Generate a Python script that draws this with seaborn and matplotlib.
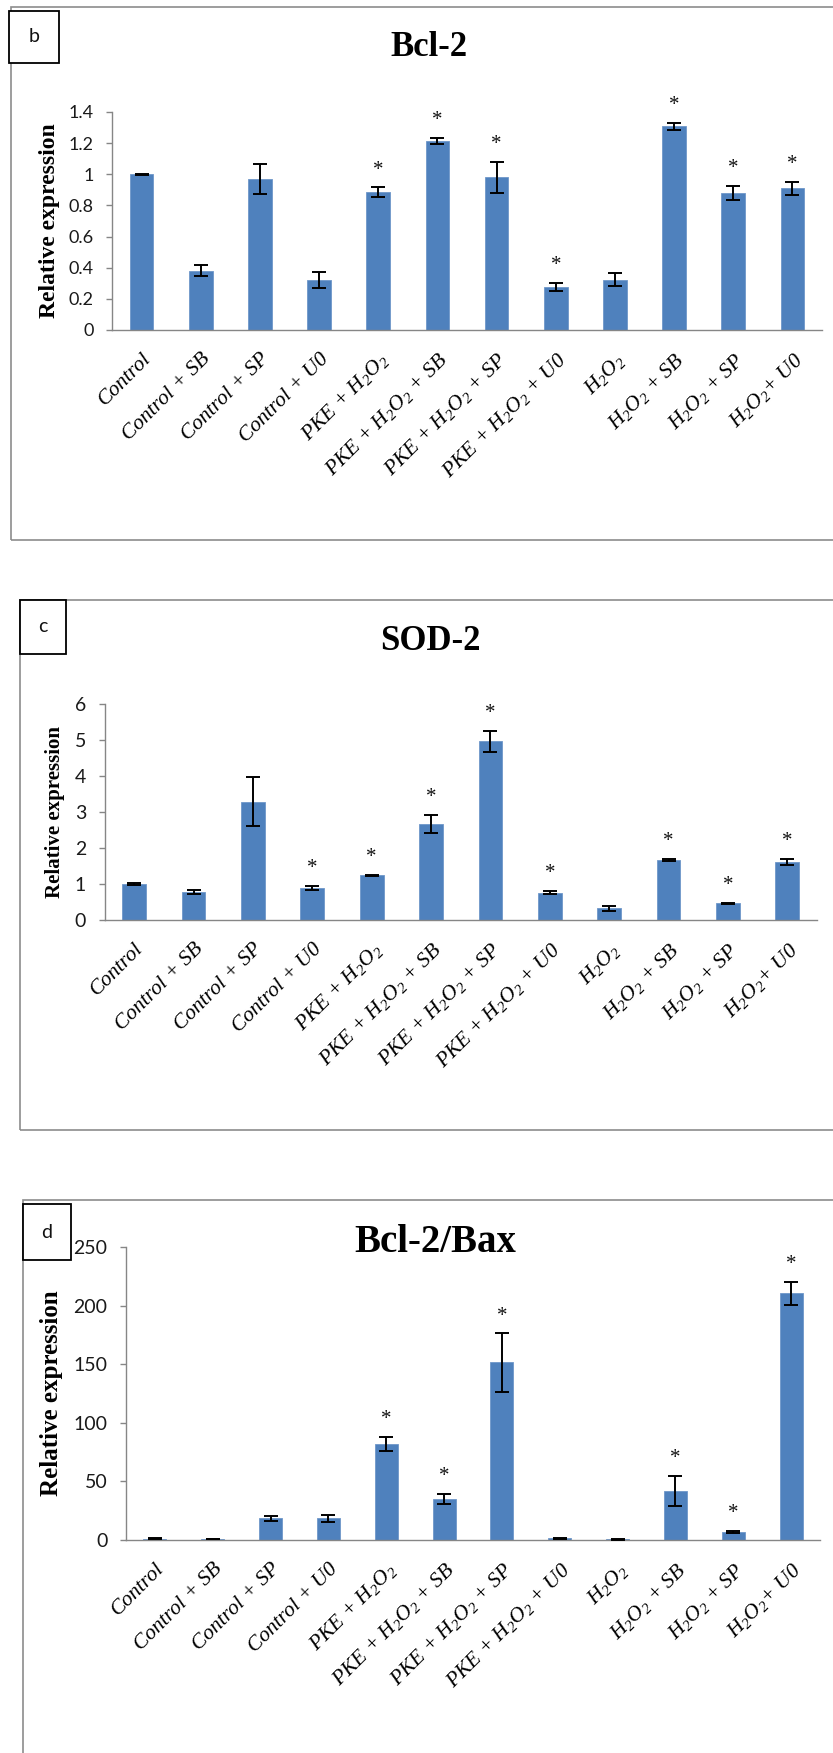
import numpy as np
import pandas as pd
import matplotlib
matplotlib.use("Agg")
import matplotlib.pyplot as plt
import seaborn as sns
from matplotlib.patches import Rectangle

# ---------------- data ----------------
categories = ["Control", "Control + SB", "Control + SP", "Control + U0",
              "PKE + H$_2$O$_2$", "PKE + H$_2$O$_2$ + SB", "PKE + H$_2$O$_2$ + SP",
              "PKE + H$_2$O$_2$ + U0",
              "H$_2$O$_2$", "H$_2$O$_2$ + SB", "H$_2$O$_2$ + SP", "H$_2$O$_2$+ U0"]

bcl2_values = [1.00, 0.38, 0.97, 0.32, 0.886, 1.214, 0.98, 0.277, 0.324, 1.307, 0.88, 0.91]
bcl2_errors = [0.003, 0.035, 0.097, 0.05, 0.03, 0.017, 0.10, 0.025, 0.04, 0.025, 0.046, 0.043]
bcl2_stars = [0, 0, 0, 0, 1, 1, 1, 1, 0, 1, 1, 1]
bcl2_ticks = [0, 0.2, 0.4, 0.6, 0.8, 1.0, 1.2, 1.4]
bcl2_ticklabels = ["0", "0.2", "0.4", "0.6", "0.8", "1", "1.2", "1.4"]

sod2_values = [1.00, 0.78, 3.28, 0.89, 1.24, 2.67, 4.96, 0.76, 0.325, 1.67, 0.46, 1.61]
sod2_errors = [0.02, 0.055, 0.68, 0.06, 0.02, 0.24, 0.30, 0.05, 0.07, 0.03, 0.02, 0.09]
sod2_stars = [0, 0, 0, 1, 1, 1, 1, 1, 0, 1, 1, 1]
sod2_ticks = [0, 1, 2, 3, 4, 5, 6]
sod2_ticklabels = ["0", "1", "2", "3", "4", "5", "6"]

ratio_values = [1.0, 0.8, 18.5, 18.5, 82.2, 35.1, 151.5, 1.3, 0.5, 42.0, 7.1, 210.6]
ratio_errors = [0.3, 0.2, 1.9, 2.9, 6.0, 4.4, 24.8, 0.4, 0.2, 13.0, 1.0, 9.8]
ratio_stars = [0, 0, 0, 0, 1, 1, 1, 0, 0, 1, 1, 1]
ratio_ticks = [0, 50, 100, 150, 200, 250]
ratio_ticklabels = ["0", "50", "100", "150", "200", "250"]

titles = ["Bcl-2", "SOD-2", "Bcl-2/Bax"]
panel_letters = ["b", "c", "d"]
ylabel = "Relative expression"

# ---------------- style ----------------
sns.set_style("white")
SERIF = ["Liberation Serif", "DejaVu Serif"]
SANS = ["Lato", "DejaVu Sans"]
plt.rcParams["font.family"] = SANS
plt.rcParams["mathtext.fontset"] = "custom"
plt.rcParams["mathtext.rm"] = "Liberation Serif:italic"
plt.rcParams["mathtext.it"] = "Liberation Serif:italic"
plt.rcParams["mathtext.bf"] = "Liberation Serif:bold"
BLUE = "#4F81BD"
GRID = "#868686"

W, H = 833, 1753
fig = plt.figure(figsize=(W / 100, H / 100), dpi=100)
fig.patch.set_facecolor("white")


def fx(x):
    return x / W


def fy(y):
    return 1 - y / H


def frame(x0, y0, x1, y1):
    fig.add_artist(Rectangle((fx(x0), fy(y1)), fx(x1) - fx(x0), fy(y0) - fy(y1),
                             transform=fig.transFigure, fill=False,
                             ec="#8c8c8c", lw=1.2, zorder=0, clip_on=False))


def letter_box(x0, y0, x1, y1, letter):
    fig.add_artist(Rectangle((fx(x0), fy(y1)), fx(x1) - fx(x0), fy(y0) - fy(y1),
                             transform=fig.transFigure, fc="white",
                             ec="black", lw=1.3, zorder=3))
    fig.text(fx((x0 + x1) / 2), fy((y0 + y1) / 2), letter, ha="center", va="center",
             fontsize=14, family=SANS, color="#111111", zorder=4)


def panel(box, values, errors, stars, ticks, ticklabels, title, title_pos, title_size,
          ylab_x, ylab_size, tick_size):
    left, top, right, bottom = box
    ax = fig.add_axes([fx(left), fy(bottom), fx(right) - fx(left), fy(top) - fy(bottom)])
    ax.set_facecolor("none")
    df = pd.DataFrame({"group": categories, "value": values})
    sns.barplot(data=df, x="group", y="value", color=BLUE, saturation=1, width=0.4,
                errorbar=None, edgecolor="#6f97c9", linewidth=0.6, ax=ax)
    xs = np.arange(len(categories))
    ax.errorbar(xs, values, yerr=errors, fmt="none", ecolor="black",
                elinewidth=1.4, capsize=5, capthick=1.4, zorder=5)
    for i, (v, e, s) in enumerate(zip(values, errors, stars)):
        if s:
            ax.annotate("*", (i, v + e), xytext=(0, 12.5), textcoords="offset points",
                        ha="center", va="center", fontsize=15, family=SERIF, color="#111111")
    ax.set_xlim(-0.5, len(categories) - 0.5)
    ax.set_ylim(ticks[0], ticks[-1])
    ax.set_yticks(ticks)
    ax.set_yticklabels(ticklabels, fontsize=tick_size, family=SANS, color="#1a1a1a")
    ax.set_xticks(xs)
    ax.set_xticklabels(categories, rotation=45, ha="right", va="top",
                       rotation_mode="anchor", fontstyle="italic", family=SERIF,
                       fontsize=15.5, color="black")
    ax.set_xticks(np.arange(-0.5, len(categories), 1), minor=True)
    ax.tick_params(axis="x", which="major", length=0, pad=14)
    ax.tick_params(axis="x", which="minor", length=4, width=1.0, color=GRID, direction="out")
    ax.tick_params(axis="y", which="major", length=4.3, width=1.0, color=GRID, direction="out",
                   pad=9, left=True)
    for side in ["top", "right"]:
        ax.spines[side].set_visible(False)
    for side in ["left", "bottom"]:
        ax.spines[side].set_color(GRID)
        ax.spines[side].set_linewidth(1.0)
    ax.set_xlabel("")
    ax.set_ylabel(ylabel, family=SERIF, fontweight="bold", fontsize=ylab_size, color="black")
    ax.yaxis.set_label_coords(ylab_x, 0.5)
    fig.text(fx(title_pos[0]), fy(title_pos[1]), title, ha="center", va="baseline",
             fontsize=title_size, fontweight="bold", family=SERIF, color="black")
    return ax


# panel b
frame(11, 7, 900, 540)
letter_box(9, 11, 59, 63, panel_letters[0])
panel((112, 112, 822, 330), bcl2_values, bcl2_errors, bcl2_stars, bcl2_ticks,
      bcl2_ticklabels, titles[0], (429, 56), 25, -0.0732, 17, 13)

# panel c
frame(20, 600, 900, 1130)
letter_box(20, 600, 66, 654, panel_letters[1])
panel((104.5, 704, 817, 920), sod2_values, sod2_errors, sod2_stars, sod2_ticks,
      sod2_ticklabels, titles[1], (430, 650), 25, -0.0554, 15, 14)

# panel d
frame(23, 1200, 900, 1900)
letter_box(23, 1204, 71, 1260, panel_letters[2])
panel((126, 1247, 820, 1540), ratio_values, ratio_errors, ratio_stars, ratio_ticks,
      ratio_ticklabels, titles[2], (435, 1252), 28, -0.0908, 18, 14)

fig.savefig("out.png", dpi=100, facecolor="white")
